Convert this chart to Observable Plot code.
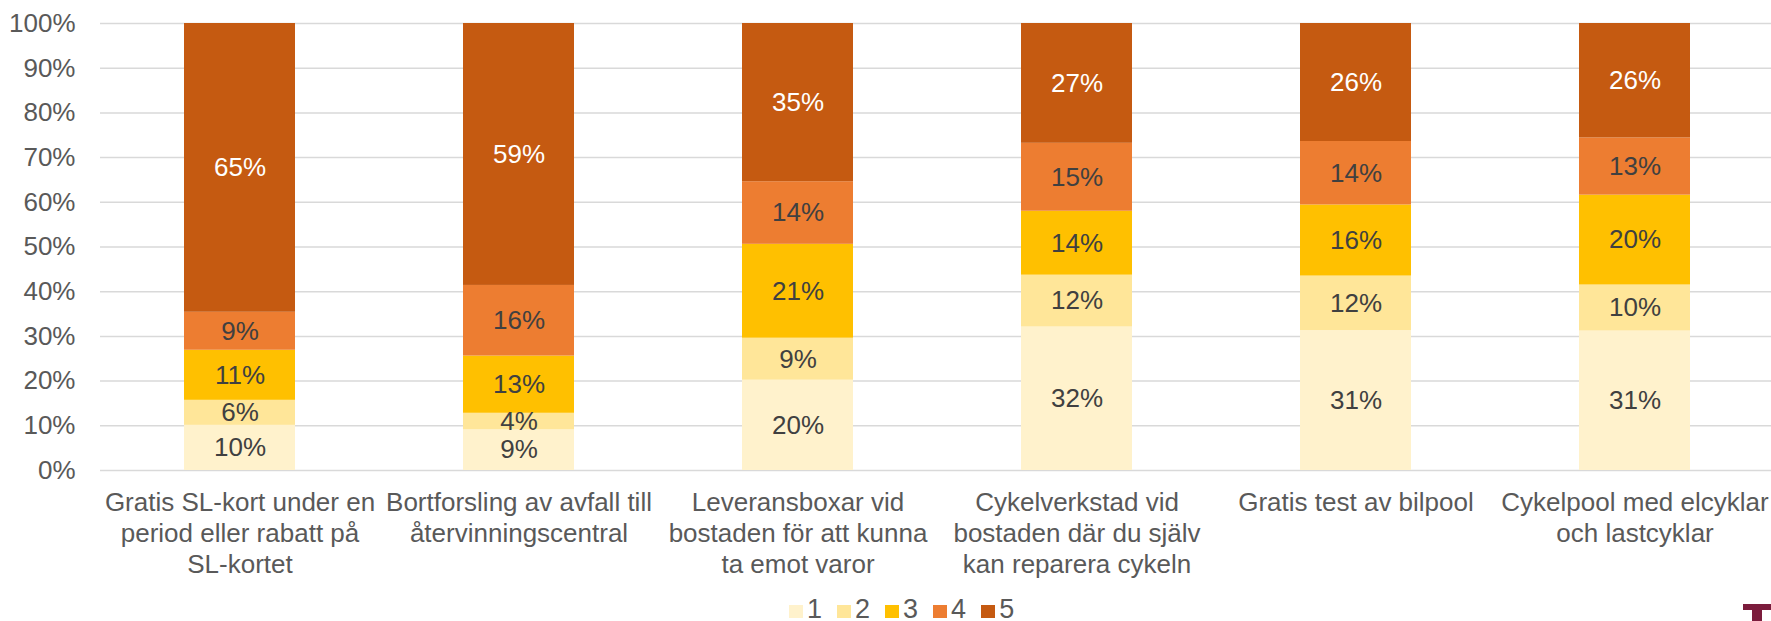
<!DOCTYPE html>
<html>
<head>
<meta charset="utf-8">
<script src="https://cdn.jsdelivr.net/npm/d3@7"></script>
<script src="https://cdn.jsdelivr.net/npm/@observablehq/plot@0.6"></script>
<style>
  html, body { margin: 0; padding: 0; background: #fff; width: 1771px; height: 621px; overflow: hidden; position: relative; }
  body { font-family: "Liberation Sans", Arial, sans-serif; }
  #legend { position: absolute; left: 789px; top: 596px; display: flex; align-items: center; font-size: 27px; color: #595959; line-height: 27px; }
  #legend .item { display: flex; align-items: center; margin-right: 15px; }
  #legend .sw { width: 14px; height: 13px; margin-right: 4px; margin-top: 4px; }
  #logo1 { position: absolute; left: 1743px; top: 604px; width: 28px; height: 6px; background: #7b1c3c; }
  #logo2 { position: absolute; left: 1752px; top: 604px; width: 10px; height: 17px; background: #7b1c3c; }
</style>
</head>
<body>
<div id="chart"></div>
<div id="legend"></div>
<div id="logo1"></div><div id="logo2"></div>
<script>
const categories = [
  "Gratis SL-kort under en\nperiod eller rabatt på\nSL-kortet",
  "Bortforsling av avfall till\nåtervinningscentral",
  "Leveransboxar vid\nbostaden för att kunna\nta emot varor",
  "Cykelverkstad vid\nbostaden där du själv\nkan reparera cykeln",
  "Gratis test av bilpool",
  "Cykelpool med elcyklar\noch lastcyklar"
];
const seriesNames = ["1", "2", "3", "4", "5"];
const s1 = [10.1, 9.1, 20.2, 32.1, 31.3, 31.2];
const s2 = [5.6, 3.7, 9.4, 11.6, 12.2, 10.3];
const s3 = [11.2, 12.8, 21.0, 14.3, 15.9, 20.1];
const s4 = [8.5, 15.8, 14.0, 15.2, 14.2, 12.8];
const s5 = [64.6, 58.6, 35.4, 26.8, 26.4, 25.6];
const colors = ["#FFF2CC", "#FFE699", "#FFC000", "#ED7D31", "#C55A11"];
const yTicks = [0, 0.1, 0.2, 0.3, 0.4, 0.5, 0.6, 0.7, 0.8, 0.9, 1];

const seriesValues = [s1, s2, s3, s4, s5];
const rows = [];
seriesNames.forEach((s, si) => {
  categories.forEach((c, ci) => {
    rows.push({category: c, series: s, value: seriesValues[si][ci]});
  });
});

const font = '"Liberation Sans", Arial, sans-serif';
const stackOpts = {x: "category", y: "value", z: "series", offset: "normalize", order: seriesNames};

const chart = Plot.plot({
  width: 1771,
  height: 592,
  marginTop: 23,
  marginBottom: 122,
  marginLeft: 100,
  marginRight: 0,
  style: {fontFamily: font, fontSize: "26px", background: "#fff", overflow: "visible"},
  x: {domain: categories, range: [100, 1774], paddingInner: 0.602, paddingOuter: 0.301, align: 0.5, label: null},
  y: {domain: [0, 1], label: null},
  color: {domain: seriesNames, range: colors},
  marks: [
    Plot.ruleY(yTicks, {stroke: "#d9d9d9", strokeWidth: 1.5}),
    Plot.barY(rows, Plot.stackY({...stackOpts, fill: "series", inset: 0})),
    Plot.text(rows, Plot.stackY({
      ...stackOpts,
      text: d => Math.round(d.value) + "%",
      fill: d => d.series === "5" ? "#ffffff" : "#404040",
      fontSize: 26,
      fontFamily: font
    })),
    Plot.axisY({ticks: yTicks, tickSize: 0, tickPadding: 25, tickFormat: d => Math.round(d * 100) + "%", fontSize: 26, color: "#595959", label: null}),
    Plot.axisX({tickSize: 0, tickPadding: 19, fontSize: 26, lineHeight: 1.18, color: "#595959", label: null})
  ]
});
document.getElementById("chart").appendChild(chart);

const legend = document.getElementById("legend");
seriesNames.forEach((s, i) => {
  const item = document.createElement("div");
  item.className = "item";
  const sw = document.createElement("div");
  sw.className = "sw";
  sw.style.background = colors[i];
  const t = document.createElement("span");
  t.textContent = s;
  item.appendChild(sw);
  item.appendChild(t);
  legend.appendChild(item);
});
</script>
</body>
</html>
